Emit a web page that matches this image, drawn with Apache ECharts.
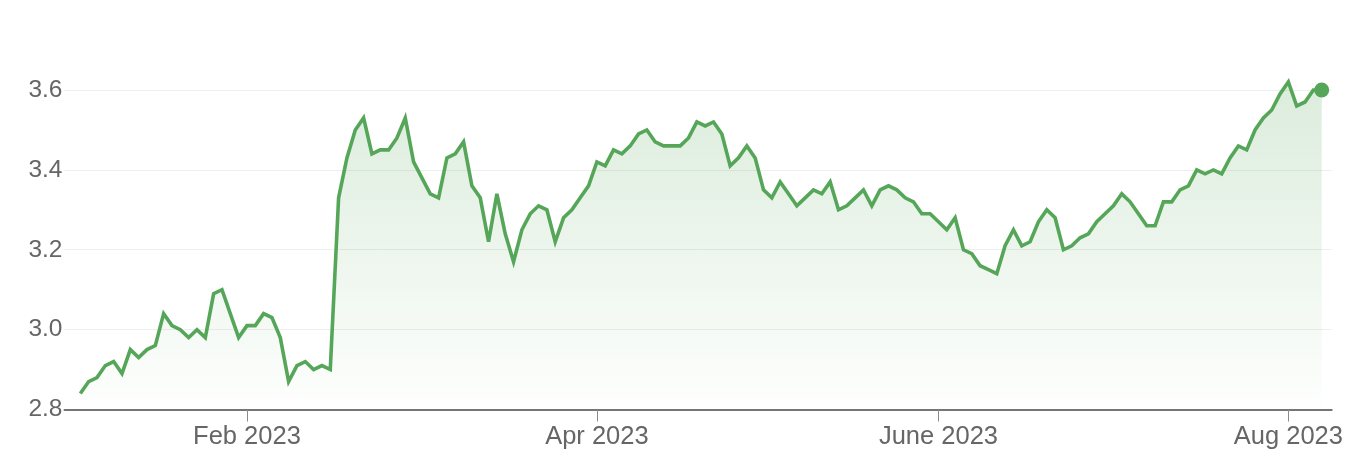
<!DOCTYPE html>
<html><head><meta charset="utf-8">
<script src="https://cdn.jsdelivr.net/npm/echarts@6/dist/echarts.min.js"></script>
<style>html,body{margin:0;padding:0;background:#fff}#c{width:1366px;height:476px}</style>
</head><body><div id="c"></div>
<script>
// ---- data ----
const startDate = '2023-01-03';
const holidays = ['2023-01-16', '2023-02-20', '2023-04-07', '2023-05-29', '2023-07-04'];
const values = [
  2.84, 2.87, 2.88, 2.91, 2.92, 2.89, 2.95, 2.93, 2.95, 2.96,
  3.04, 3.01, 3.00, 2.98, 3.00, 2.98, 3.09, 3.10, 3.04, 2.98,
  3.01, 3.01, 3.04, 3.03, 2.98, 2.87, 2.91, 2.92, 2.90, 2.91,
  2.90, 3.33, 3.43, 3.50, 3.53, 3.44, 3.45, 3.45, 3.48, 3.53,
  3.42, 3.38, 3.34, 3.33, 3.43, 3.44, 3.47, 3.36, 3.33, 3.22,
  3.34, 3.24, 3.17, 3.25, 3.29, 3.31, 3.30, 3.22, 3.28, 3.30,
  3.33, 3.36, 3.42, 3.41, 3.45, 3.44, 3.46, 3.49, 3.50, 3.47,
  3.46, 3.46, 3.46, 3.48, 3.52, 3.51, 3.52, 3.49, 3.41, 3.43,
  3.46, 3.43, 3.35, 3.33, 3.37, 3.34, 3.31, 3.33, 3.35, 3.34,
  3.37, 3.30, 3.31, 3.33, 3.35, 3.31, 3.35, 3.36, 3.35, 3.33,
  3.32, 3.29, 3.29, 3.27, 3.25, 3.28, 3.20, 3.19, 3.16, 3.15,
  3.14, 3.21, 3.25, 3.21, 3.22, 3.27, 3.30, 3.28, 3.20, 3.21,
  3.23, 3.24, 3.27, 3.29, 3.31, 3.34, 3.32, 3.29, 3.26, 3.26,
  3.32, 3.32, 3.35, 3.36, 3.40, 3.39, 3.40, 3.39, 3.43, 3.46,
  3.45, 3.50, 3.53, 3.55, 3.59, 3.62, 3.56, 3.57, 3.60, 3.60
];
const tickMonths = ['2023-02', '2023-04', '2023-06', '2023-08'];
const tickLabels = ['Feb 2023', 'Apr 2023', 'June 2023', 'Aug 2023'];
const yMin = 2.8, yMax = 3.6, yStep = 0.2;

// ---- build trading-day categories ----
const dates = [];
const d = new Date(startDate + 'T00:00:00Z');
while (dates.length < values.length) {
  const iso = d.toISOString().slice(0, 10);
  const wd = d.getUTCDay();
  if (wd !== 0 && wd !== 6 && holidays.indexOf(iso) < 0) dates.push(iso);
  d.setUTCDate(d.getUTCDate() + 1);
}
const tickIdx = tickMonths.map(m => dates.findIndex(s => s.indexOf(m) === 0));
const labelByIdx = {};
tickIdx.forEach((t, i) => { labelByIdx[t] = tickLabels[i]; });

const lineData = values.map((v, i) => [i, v]);
const last = lineData[lineData.length - 1];

const green = '#56a659';
const font = "'Liberation Sans', Arial, Helvetica, sans-serif";

const chart = echarts.init(document.getElementById('c'), null, { renderer: 'canvas' });
chart.setOption({
  animation: false,
  backgroundColor: '#fff',
  grid: { left: 64.5, right: 34.3, top: 90, bottom: 66.5, containLabel: false, outerBoundsMode: 'none' },
  xAxis: {
    type: 'value',
    min: -1.9,
    max: 150.2,
    splitLine: { show: false },
    axisLine: { show: true, lineStyle: { color: '#757575', width: 2 } },
    axisTick: { show: true, customValues: tickIdx, length: 12, lineStyle: { color: '#8a8a8a', width: 1 } },
    axisLabel: {
      customValues: tickIdx,
      formatter: v => labelByIdx[Math.round(v)] || '',
      color: '#666', fontSize: 25.5, fontFamily: font, margin: 14
    }
  },
  yAxis: {
    type: 'value',
    min: yMin, max: yMax, interval: yStep,
    axisLine: { show: false },
    axisTick: { show: false },
    splitLine: { show: true, lineStyle: { color: '#eeeeee', width: 1 } },
    axisLabel: {
      formatter: v => v.toFixed(1),
      color: '#666', fontSize: 24.5, fontFamily: font, margin: 2
    }
  },
  series: [
    {
      type: 'line',
      data: lineData,
      clip: false,
      showSymbol: false,
      symbol: 'none',
      lineStyle: { color: green, width: 3.6, join: 'miter', miterLimit: 4 },
      areaStyle: {
        color: new echarts.graphic.LinearGradient(0, 0, 0, 1, [
          { offset: 0, color: 'rgba(86,166,89,0.30)' },
          { offset: 1, color: 'rgba(86,166,89,0.01)' }
        ])
      },
      z: 2
    },
    {
      type: 'scatter',
      data: [last],
      clip: false,
      symbol: 'circle',
      symbolSize: 15,
      itemStyle: { color: green, opacity: 1 },
      z: 3
    }
  ]
});
</script>
</body></html>
